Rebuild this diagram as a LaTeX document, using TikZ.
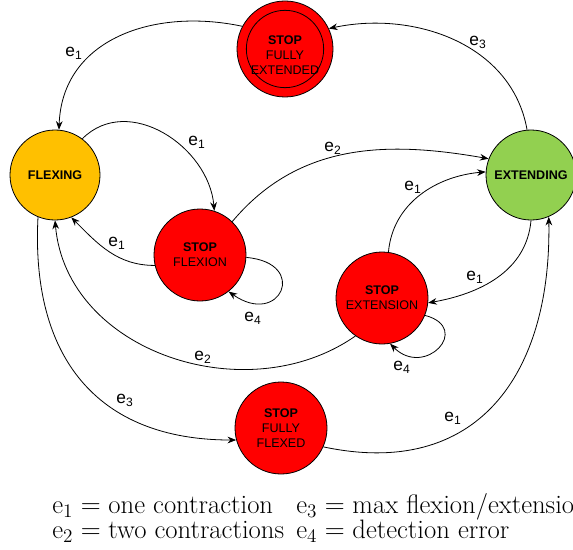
\documentclass[tikz,border=0pt]{standalone}
\usepackage{amsmath}
\usepackage{fontspec}
\newfontfamily\arial{Liberation Sans}
\usetikzlibrary{arrows.meta}
\definecolor{flxcol}{HTML}{FFC000}
\definecolor{extcol}{HTML}{92D050}
\definecolor{stopred}{HTML}{FF0000}
\begin{document}
\begin{tikzpicture}[x=0.75pt,y=-0.75pt,
  state/.style={circle,draw=black,line width=0.6pt,inner sep=0pt,align=center,
    font=\arial\fontsize{9.4}{11.3}\selectfont},
  conn/.style={draw=black,line width=0.6pt,-{Stealth[length=6.5pt,width=5pt]}},
  lbl/.style={font=\arial\fontsize{13}{15}\selectfont,inner sep=0pt},
  legend/.style={font=\fontsize{20}{22}\selectfont,inner sep=0pt,anchor=base west},
]
\useasboundingbox (0,0) rectangle (573,549);
\clip (0,0) rectangle (573,549);
% states
\node[state,fill=stopred,minimum size=72pt] (sfe) at (285,49) {};
\node[circle,draw=black,line width=0.6pt,minimum size=58pt,inner sep=0pt] (sfein) at (sfe.center) {};
\node[align=center,font=\arial\fontsize{9.4}{11.3}\selectfont] (sfetext) at (285,55) {\textbf{STOP}\\FULLY\\EXTENDED};
\node[state,fill=flxcol,minimum size=67.5pt] (flx) at (55,175) {\textbf{FLEXING}};
\node[state,fill=extcol,minimum size=67.5pt] (ext) at (531,175) {\textbf{EXTENDING}};
\node[state,fill=stopred,minimum size=69pt] (sf) at (200,255) {\textbf{STOP}\\FLEXION};
\node[state,fill=stopred,minimum size=69pt] (se) at (382,298) {\textbf{STOP}\\EXTENSION};
\node[state,fill=stopred,minimum size=69pt] (sff) at (281,428) {\textbf{STOP}\\FULLY\\FLEXED};
% connectors
\draw[conn] (sfe.152) to[out=168,in=88,looseness=1.1] (flx.85);
\draw[conn] (ext.95) to[out=100,in=12,looseness=1.0] (sfe.25);
\draw[conn] (flx.53) to[out=45,in=95,looseness=1.1] (sf.72);
\draw[conn] (sf.193) to[out=180,in=-45,looseness=1.0] (flx.-69);
\draw[conn] (sf.46) to[out=50,in=170,looseness=1.0] (ext.159);
\draw[conn] (sf.-3) to[out=-5,in=-35,looseness=4.2] (sf.-52);
\draw[conn] (se.82) to[out=85,in=185,looseness=1.0] (ext.176);
\draw[conn] (ext.-90) to[out=-95,in=10,looseness=1.0] (se.-6);
\draw[conn] (se.-125) to[out=-145,in=-85,looseness=1.05] (flx.-90);
\draw[conn] (se.-22) to[out=-15,in=-45,looseness=2.8] (se.-80);
\draw[conn] (flx.-112) to[out=-93,in=180,looseness=1.2] (sff.195);
\draw[conn] (sff.-24) to[out=-12,in=-89,looseness=1.25] (ext.-67);
% labels
\node[lbl] (l1) at (74,53) {e\textsubscript{1}};
\node[lbl] (l2) at (478,42) {e\textsubscript{3}};
\node[lbl] (l3) at (197,142) {e\textsubscript{1}};
\node[lbl] (l4) at (117,243) {e\textsubscript{1}};
\node[lbl] (l5) at (333,148) {e\textsubscript{2}};
\node[lbl] (l6) at (253,318) {e\textsubscript{4}};
\node[lbl] (l7) at (413,187) {e\textsubscript{1}};
\node[lbl] (l8) at (475,277) {e\textsubscript{1}};
\node[lbl] (l9) at (203,357) {e\textsubscript{2}};
\node[lbl] (l10) at (402,367) {e\textsubscript{4}};
\node[lbl] (l11) at (125,400) {e\textsubscript{3}};
\node[lbl] (l12) at (453,418) {e\textsubscript{1}};
% legend
\node[legend] (lg1) at (52,513) {$\mathrm{e}_1 = \text{one contraction}$};
\node[legend] (lg2) at (52,538) {$\mathrm{e}_2 = \text{two contractions}$};
\node[legend] (lg3) at (296,513) {$\mathrm{e}_3 = \text{max flexion/extension}$};
\node[legend] (lg4) at (296,538) {$\mathrm{e}_4 = \text{detection error}$};
\end{tikzpicture}
\end{document}
